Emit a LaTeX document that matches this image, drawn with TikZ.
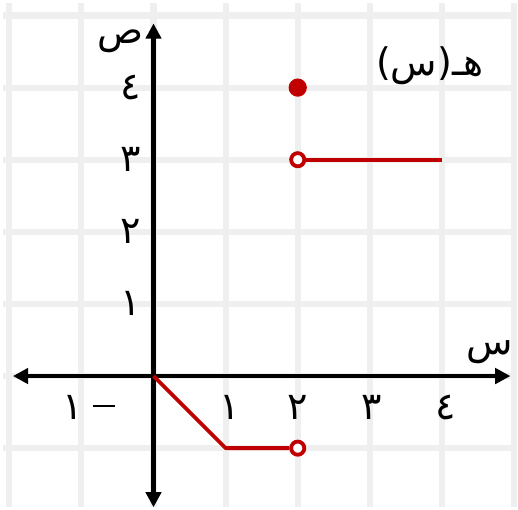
\documentclass[tikz,border=0pt]{standalone}
\usepackage{fontspec}
\usetikzlibrary{arrows.meta}
\TeXXeTstate=1
\newfontfamily\arabicfont[Script=Arabic]{DejaVu Sans}
\definecolor{gridc}{HTML}{EFEFEF}
\definecolor{fred}{HTML}{C00000}
\tikzset{
  gridline/.style={draw=gridc, line width=2.4pt},
  axisline/.style={draw=black, line width=1.75pt, -{Triangle[length=6pt,width=6pt]}},
  graphline/.style={draw=fred, line width=1.5pt},
  opendot/.style={circle, draw=fred, line width=1.5pt, fill=white, minimum size=5.2pt, inner sep=0pt},
  fulldot/.style={circle, fill=fred, minimum size=7.2pt, inner sep=0pt},
  lbl/.style={font=\arabicfont\fontsize{15}{18}\selectfont, inner sep=0pt}
}
\begin{document}
\begin{tikzpicture}[x=1cm,y=1cm]
\useasboundingbox (-2.129,-1.845) rectangle (5.055,5.215);
% grid
\foreach \i in {-2,...,5} \draw[gridline] (\i,-1.82) -- (\i,5.17);
\foreach \j in {-1,...,5} \draw[gridline] (-2.09,\j) -- (5.03,\j);
% axes
\coordinate (xl) at (-1.95,0);
\coordinate (xr) at (4.95,0);
\coordinate (yb) at (0,-1.82);
\coordinate (yt) at (0,4.89);
\draw[axisline] (0,0) -- (xr);
\draw[axisline] (0,0) -- (xl);
\draw[axisline] (0,0) -- (yt);
\draw[axisline] (0,0) -- (yb);
% axis labels
\node[lbl] (sad) at (-0.46,4.64) {\beginR ص\endR};
\node[lbl] (sin) at (4.66,0.33) {\beginR س\endR};
% y ticks
\node[lbl] (y1) at (-0.32,1) {١};
\node[lbl] (y2) at (-0.32,2) {٢};
\node[lbl] (y3) at (-0.32,3) {٣};
\node[lbl] (y4) at (-0.32,4) {٤};
% x ticks
\node[lbl] (xm1) at (-0.9,-0.44) {\beginR \rule[5pt]{8.5pt}{0.9pt}\hspace{4pt}١\endR};
\node[lbl] (x1) at (1.05,-0.44) {١};
\node[lbl] (x2) at (2,-0.44) {٢};
\node[lbl] (x3) at (3.03,-0.44) {٣};
\node[lbl] (x4) at (4.05,-0.44) {٤};
% function label
\node[lbl] (fname) at (3.83,4.31) {\beginR هـ(س)\endR};
% graph
\coordinate (o) at (0,0);
\coordinate (p1) at (1,-1);
\node[opendot] (e1) at (2,-1) {};
\node[opendot] (e2) at (2,3) {};
\coordinate (p4) at (4,3);
\draw[graphline, line join=round] (o) -- (p1) -- (e1.west);
\draw[graphline] (e2.east) -- (p4);
\node[fulldot] (d) at (2,4) {};
\end{tikzpicture}
\end{document}
